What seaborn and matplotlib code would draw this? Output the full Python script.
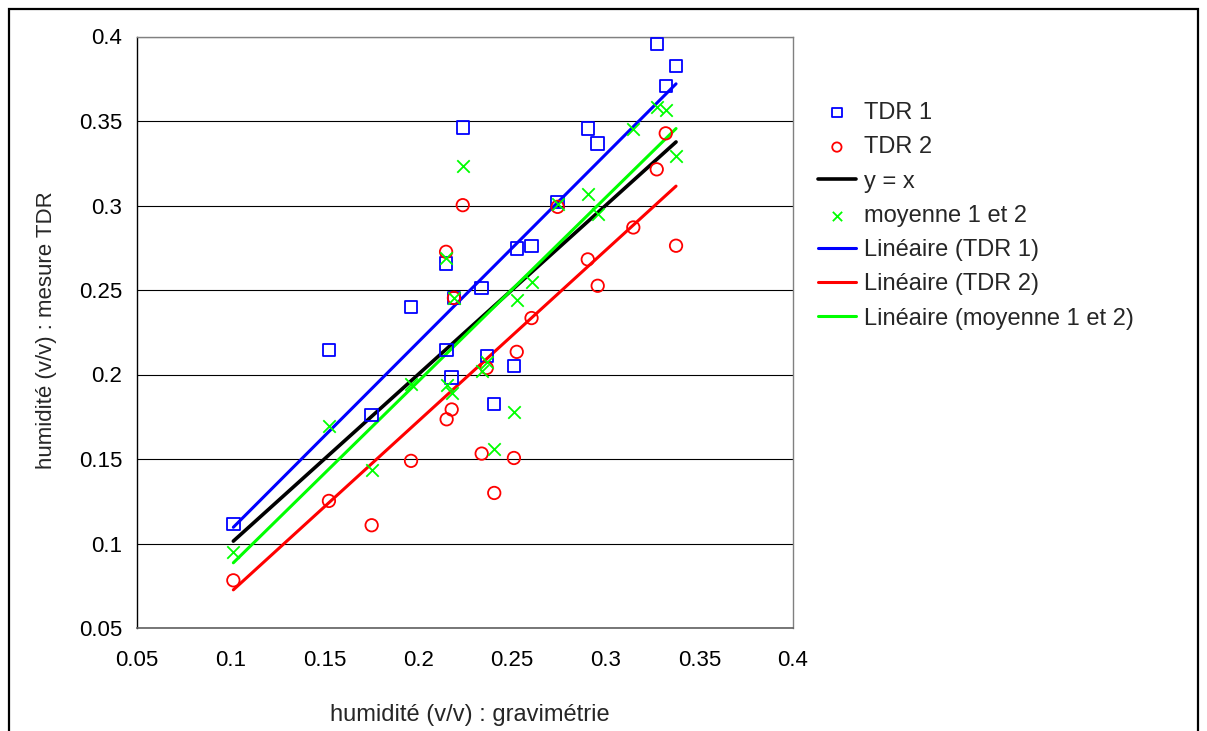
# Humidité : TDR vs gravimétrie

import numpy as np
import seaborn as sns
import matplotlib.pyplot as plt
from matplotlib.patches import Rectangle

# Gravimetric moisture (x) and TDR readings (y)
# (TDR 1 at x=0.3148 is off the top of the chart -> left as missing)
grav = [0.1014, 0.1524, 0.1752, 0.1962, 0.2149, 0.2152, 0.2179, 0.2191,
        0.2238, 0.2339, 0.2366, 0.2406, 0.2511, 0.2526, 0.2605, 0.2744,
        0.2905, 0.2958, 0.3148, 0.3273, 0.3321, 0.3376]
tdr1 = [0.1114, 0.2144, 0.1759, 0.2399, 0.2657, 0.2144, 0.1982, 0.2453,
        0.3462, 0.2512, 0.2110, 0.1824, 0.2051, 0.2746, 0.2762, 0.3020,
        0.3456, 0.3368, np.nan, 0.3956, 0.3707, 0.3825]
tdr2 = [0.0782, 0.1252, 0.1108, 0.1489, 0.2726, 0.1735, 0.1793, 0.2453,
        0.3002, 0.1532, 0.2039, 0.1299, 0.1506, 0.2134, 0.2334, 0.2992,
        0.2681, 0.2525, 0.2870, 0.3214, 0.3427, 0.2762]
moyenne = [0.0950, 0.1698, 0.1433, 0.1945, 0.2690, 0.1940, 0.1888, 0.2453,
           0.3232, 0.2022, 0.2075, 0.1562, 0.1779, 0.2440, 0.2548, 0.3006,
           0.3068, 0.2947, 0.3450, 0.3585, 0.3567, 0.3294]

ticks = [0.05, 0.1, 0.15, 0.2, 0.25, 0.3, 0.35, 0.4]
tick_labels = ["0.05", "0.1", "0.15", "0.2", "0.25", "0.3", "0.35", "0.4"]

BLUE = "#0000FF"
RED = "#FF0000"
GREEN = "#00FF00"

sns.set_style("white")
plt.rcParams['font.family'] = ['Liberation Sans', 'DejaVu Sans']

fig = plt.figure(figsize=(12.07, 7.31), dpi=100)
W, H = 1207, 731
ax = fig.add_axes([137 / W, 1 - 628 / H, (793 - 137) / W, (628 - 36.5) / H])

# outer chart frame
fig.patches.append(Rectangle((9 / W, -0.05), (1198 - 9) / W, 1.05 - 9 / H,
                             transform=fig.transFigure, fill=False,
                             edgecolor="black", linewidth=1.6))

# data series
sns.scatterplot(x=grav, y=tdr1, ax=ax, marker="s", s=80, facecolor="none",
                edgecolor=BLUE, linewidth=1.3, label="TDR 1", zorder=3)
sns.scatterplot(x=grav, y=tdr2, ax=ax, marker="o", s=80, facecolor="none",
                edgecolor=RED, linewidth=1.3, label="TDR 2", zorder=3)
sns.lineplot(x=grav, y=grav, ax=ax, color="black", linewidth=2.6,
             estimator=None, label="y = x", zorder=2)
sns.scatterplot(x=grav, y=moyenne, ax=ax, marker="x", s=80, color=GREEN,
                linewidth=1.3, label="moyenne 1 et 2", zorder=3)

# linear trend lines
sns.regplot(x=grav, y=tdr1, ax=ax, scatter=False, ci=None, color=BLUE,
            line_kws={"linewidth": 2.2}, label="Linéaire (TDR 1)")
sns.regplot(x=grav, y=tdr2, ax=ax, scatter=False, ci=None, color=RED,
            line_kws={"linewidth": 2.2}, label="Linéaire (TDR 2)")
sns.regplot(x=grav, y=moyenne, ax=ax, scatter=False, ci=None, color=GREEN,
            line_kws={"linewidth": 2.2}, label="Linéaire (moyenne 1 et 2)")

ax.set_xlim(0.05, 0.4)
ax.set_ylim(0.05, 0.4)
ax.set_xticks(ticks)
ax.set_xticklabels(tick_labels)
ax.set_yticks(ticks)
ax.set_yticklabels(tick_labels)
ax.tick_params(axis="both", direction="out", length=4.5, width=0.8,
               color="black", labelsize=16, labelcolor="black")
ax.tick_params(axis="x", pad=11)
ax.tick_params(axis="y", pad=6)

ax.yaxis.grid(True, color="black", linewidth=0.8)
ax.xaxis.grid(False)
ax.set_axisbelow(True)
for side in ["top", "right"]:
    ax.spines[side].set_color("#808080")
    ax.spines[side].set_linewidth(1.0)
ax.spines["left"].set_color("black")
ax.spines["bottom"].set_color("#606060")
ax.spines["left"].set_linewidth(1.0)
ax.spines["bottom"].set_linewidth(1.2)

ax.set_xlabel("humidité (v/v) : gravimétrie", fontsize=17)
ax.set_ylabel("humidité (v/v) : mesure TDR", fontsize=16)
ax.xaxis.set_label_coords((470 - 137) / 656, (628 - 704) / 591.5)
ax.yaxis.set_label_coords((57 - 137) / 656, (628 - 330) / 591.5)

leg = ax.legend(loc="upper left", bbox_to_anchor=(818 / W, 1 - 102 / H),
                bbox_transform=fig.transFigure, frameon=False, fontsize=17,
                handlelength=1.6, handletextpad=0.33, labelspacing=0.52,
                borderaxespad=0, borderpad=0)
for h in leg.legend_handles:
    if hasattr(h, "set_sizes"):
        h.set_sizes([45])

fig.savefig("out.png", dpi=100)
